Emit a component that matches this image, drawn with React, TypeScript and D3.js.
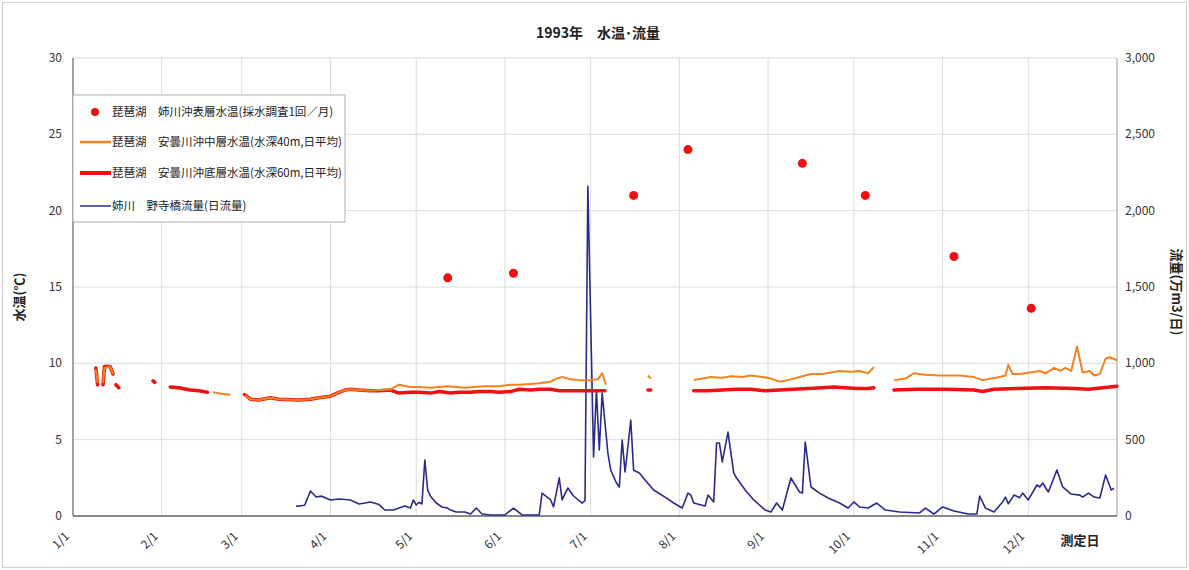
import React from "react";
import * as d3 from "d3";

const W = 1189;
const H = 570;

const monthStartDays = [0, 31, 59, 90, 120, 151, 181, 212, 243, 273, 304, 334];
const monthLabels = ["1/1", "2/1", "3/1", "4/1", "5/1", "6/1", "7/1", "8/1", "9/1", "10/1", "11/1", "12/1"];
const tempTicks = [0, 5, 10, 15, 20, 25, 30];
const flowTicks = [0, 500, 1000, 1500, 2000, 2500, 3000];

// 表層水温 (採水調査 1回/月): [day of year, °C]
const surfaceTemp: [number, number][] = [
  [131, 15.6], [154, 15.9], [196, 21.0], [215, 24.0],
  [255, 23.1], [277, 21.0], [308, 17.0], [335, 13.6],
];

// 中層水温 (水深40m, 日平均): [day, °C | null]
const midTemp: [number, number | null][] = [
  [8, 9.6], [8.6, 8.7], [9, null],
  [10.5, 8.7], [11, 9.7], [13, 9.8], [14, 9.3], [14.5, null],
  [49, 8.1], [52, 8.0], [55, 7.95], [56, null],
  [60, 7.9], [62, 7.65], [65, 7.6], [69, 7.75], [72, 7.65], [79, 7.6], [83, 7.65],
  [86, 7.75], [90, 7.85], [93, 8.1], [95, 8.25], [97, 8.3], [100, 8.25], [104, 8.2],
  [107, 8.25], [111, 8.3], [114, 8.6], [118, 8.45], [121, 8.45], [125, 8.4], [128, 8.45],
  [131, 8.5], [134, 8.45], [137, 8.4], [140, 8.45], [144, 8.5], [149, 8.5], [153, 8.6],
  [156, 8.6], [160, 8.65], [163, 8.7], [167, 8.8], [169, 9.0], [171, 9.1], [174, 8.95],
  [177, 8.9], [181, 8.9], [183.5, 8.95], [185, 9.35], [186.3, 8.6], [187, null],
  [201, 9.2], [202, 9.0], [202.5, null],
  [217, 8.9], [220, 9.0], [223, 9.1], [227, 9.05], [230, 9.15], [234, 9.1], [237, 9.2],
  [241, 9.1], [244, 9.0], [247, 8.8], [250, 8.9], [254, 9.1], [258, 9.3], [262, 9.3],
  [265, 9.4], [268, 9.5], [272, 9.45], [275, 9.5], [278, 9.35], [280, 9.75], [281, null],
  [287, 8.9], [291, 9.0], [294, 9.35], [298, 9.25], [303, 9.2], [310, 9.2], [315, 9.1],
  [318, 8.9], [324, 9.1], [326, 9.2], [327, 9.9], [328.5, 9.3], [331, 9.3], [334.5, 9.4],
  [338, 9.5], [340, 9.35], [341.5, 9.5], [343, 9.7], [345, 9.5], [347, 9.7], [349, 9.5],
  [351, 11.1], [353, 9.4], [355.5, 9.5], [357, 9.2], [359, 9.3], [361, 10.3], [362.5, 10.4],
  [365, 10.2],
];

// 底層水温 (水深60m, 日平均): [day, °C | null]
const bottomTemp: [number, number | null][] = [
  [8, 9.7], [8.6, 8.6], [9, null],
  [10.5, 8.6], [11, 9.8], [13, 9.8], [14, 9.3], [14.5, null],
  [15, 8.6], [16, 8.4], [16.5, null],
  [28, 8.85], [28.6, 8.75], [29, null],
  [34, 8.45], [37, 8.4], [41, 8.25], [44, 8.2], [47, 8.1], [47.5, null],
  [60, 7.95], [62, 7.65], [65, 7.6], [69, 7.75], [72, 7.65], [79, 7.6], [83, 7.65],
  [86, 7.75], [90, 7.85], [93, 8.1], [95, 8.25], [97, 8.3], [100, 8.25], [104, 8.2],
  [107, 8.2], [111, 8.25], [114, 8.05], [118, 8.1], [121, 8.1], [125, 8.05], [128, 8.15],
  [132, 8.05], [135, 8.1], [139, 8.1], [142, 8.15], [146, 8.15], [149, 8.1], [153, 8.15],
  [156, 8.3], [160, 8.25], [163, 8.3], [167, 8.3], [170, 8.2], [174, 8.2], [177, 8.2],
  [181, 8.2], [186, 8.2], [186.5, null],
  [201, 8.25], [202, 8.25], [202.5, null],
  [217, 8.2], [222, 8.2], [227, 8.25], [232, 8.3], [237, 8.3], [242, 8.2], [247, 8.25],
  [252, 8.3], [257, 8.35], [262, 8.4], [266, 8.45], [270, 8.4], [274, 8.35], [278, 8.35],
  [280, 8.4], [281, null],
  [287, 8.25], [295, 8.3], [305, 8.3], [315, 8.25], [318, 8.15], [322, 8.3], [330, 8.35],
  [340, 8.4], [350, 8.35], [355, 8.3], [360, 8.4], [365, 8.5],
];

// 姉川 野寺橋流量 (日流量, 万m3/日): [day, flow]
const riverFlow: [number, number][] = [
  [78, 65], [79, 65], [81, 70], [83, 164], [85, 124], [87, 130], [90, 105], [93, 111],
  [97, 105], [100, 79], [102, 85], [104, 92], [107, 75], [109, 39], [112, 39], [114, 52],
  [116, 65], [118, 52], [119, 105], [120, 72], [121, 90], [122, 79], [123, 367], [124, 170],
  [125, 130], [127, 85], [129, 59], [131, 52], [132, 39], [134, 26], [137, 26], [139, 13],
  [141, 52], [143, 13], [146, 7], [151, 7], [154, 52], [157, 7], [163, 7], [164, 150],
  [167, 105], [168, 60], [170, 250], [171, 105], [173, 183], [175, 131], [178, 85],
  [179, 100], [180, 2160], [182, 386], [183, 825], [184, 432], [185, 805], [187, 412],
  [188, 300], [190, 216], [191, 190], [192, 498], [193, 288], [194, 452], [195, 629],
  [196, 300], [198, 282], [200, 236], [203, 170], [207, 124], [210, 85], [213, 52],
  [215, 150], [216, 137], [217, 85], [221, 65], [222, 137], [224, 92], [225, 478],
  [226, 478], [227, 354], [229, 550], [231, 282], [232, 249], [235, 170], [238, 105],
  [242, 39], [244, 26], [246, 85], [248, 39], [251, 249], [254, 157], [255, 150],
  [256, 485], [258, 190], [261, 150], [264, 118], [268, 85], [271, 52], [273, 92],
  [275, 59], [278, 52], [281, 85], [284, 39], [289, 26], [296, 20], [298, 52], [301, 13],
  [304, 59], [308, 33], [313, 13], [316, 13], [317, 131], [319, 52], [322, 26], [325, 92],
  [326, 124], [327, 80], [329, 137], [331, 120], [332, 150], [334, 105], [337, 203],
  [338, 190], [339, 216], [341, 157], [344, 301], [346, 190], [349, 144], [352, 137],
  [353, 124], [355, 150], [357, 124], [359, 118], [361, 268], [363, 170], [364, 183],
];

const legendItems = [
  { label: "琵琶湖　姉川沖表層水温(採水調査1回／月)", kind: "dot", color: "#ee1111", width: 0 },
  { label: "琵琶湖　安曇川沖中層水温(水深40m,日平均)", kind: "line", color: "#f5821f", width: 2.5 },
  { label: "琵琶湖　安曇川沖底層水温(水深60m,日平均)", kind: "line", color: "#ee1111", width: 4 },
  { label: "姉川　野寺橋流量(日流量)", kind: "line", color: "#2a2a8a", width: 1.5 },
];

const FONT = "'Noto Sans CJK JP', 'Noto Sans', sans-serif";

export default function App() {
  const left = 73, right = 1117, top = 58, bottom = 516;
  const x = d3.scaleLinear().domain([0, 365]).range([left, right]);
  const yT = d3.scaleLinear().domain([0, 30]).range([bottom, top]);
  const yF = d3.scaleLinear().domain([0, 3000]).range([bottom, top]);

  const tempLine = d3
    .line<[number, number | null]>()
    .defined((d) => d[1] != null)
    .x((d) => x(d[0]))
    .y((d) => yT(d[1] as number));
  const flowLine = d3
    .line<[number, number]>()
    .x((d) => x(d[0]))
    .y((d) => yF(d[1]));

  const fmt = d3.format(",");

  return (
    <svg
      width={W}
      height={H}
      style={{ position: "absolute", left: 0, top: 0, background: "#fff" }}
      fontFamily={FONT}
    >
      <rect x={2.5} y={2.5} width={W - 5} height={H - 5} fill="#fff" stroke="#d0d0d0" />
      <text x={598} y={38} textAnchor="middle" fontSize={14} fontWeight={600} fill="#222">
        1993年　水温･流量
      </text>

      {/* grid */}
      {tempTicks.map((t) => (
        <line key={"h" + t} x1={left} x2={right} y1={yT(t)} y2={yT(t)} stroke="#dcdcdc" strokeWidth={1} />
      ))}
      {monthStartDays.slice(1).map((d) => (
        <line key={"v" + d} x1={x(d)} x2={x(d)} y1={top} y2={bottom} stroke="#dcdcdc" strokeWidth={1} />
      ))}

      {/* axes */}
      <line x1={left} x2={left} y1={top} y2={bottom} stroke="#666" strokeWidth={1.2} />
      <line x1={right} x2={right} y1={top} y2={bottom} stroke="#999" strokeWidth={1} />
      <line x1={left} x2={right} y1={bottom} y2={bottom} stroke="#666" strokeWidth={1.5} />

      {tempTicks.map((t) => (
        <text key={"lt" + t} x={62} y={yT(t) + 4} textAnchor="end" fontSize={12} fill="#333">
          {t}
        </text>
      ))}
      {flowTicks.map((t) => (
        <text key={"rt" + t} x={1125} y={yF(t) + 4} textAnchor="start" fontSize={12} fill="#333">
          {fmt(t)}
        </text>
      ))}
      {monthStartDays.map((d, i) => (
        <text
          key={"xl" + d}
          transform={`translate(${x(d) - 3},${537}) rotate(-45)`}
          textAnchor="end"
          fontSize={12}
          fill="#333"
        >
          {monthLabels[i]}
        </text>
      ))}
      <text x={1080} y={545} textAnchor="middle" fontSize={13} fontWeight={600} fill="#222">
        測定日
      </text>
      <text
        transform={`translate(24,297) rotate(-90)`}
        textAnchor="middle"
        fontSize={13}
        fontWeight={600}
        fill="#222"
      >
        水温(℃)
      </text>
      <text
        transform={`translate(1172,292) rotate(90)`}
        textAnchor="middle"
        fontSize={13}
        fontWeight={600}
        fill="#222"
      >
        流量(万m3/日)
      </text>

      {/* data */}
      <path d={flowLine(riverFlow) || ""} fill="none" stroke="#2a2a8a" strokeWidth={1.6} strokeLinejoin="round" />
      <path d={tempLine(bottomTemp) || ""} fill="none" stroke="#ee1111" strokeWidth={3.5} strokeLinejoin="round" strokeLinecap="round" />
      <path d={tempLine(midTemp) || ""} fill="none" stroke="#f5821f" strokeWidth={2} strokeLinejoin="round" />
      {surfaceTemp.map((d, i) => (
        <circle key={"s" + i} cx={x(d[0])} cy={yT(d[1])} r={4.5} fill="#ee1111" />
      ))}

      {/* legend */}
      <rect x={left} y={95} width={272} height={127} fill="#fff" stroke="#b0b0b0" strokeWidth={1} />
      {legendItems.map((it, i) => {
        const ys = [112, 142, 173, 206][i];
        return (
          <g key={"lg" + i}>
            {it.kind === "dot" ? (
              <circle cx={95} cy={ys} r={4} fill={it.color} />
            ) : (
              <line x1={80} x2={111} y1={ys} y2={ys} stroke={it.color} strokeWidth={it.width} />
            )}
            <text x={112} y={ys + 4} fontSize={11.5} fill="#222">
              {it.label}
            </text>
          </g>
        );
      })}
    </svg>
  );
}
